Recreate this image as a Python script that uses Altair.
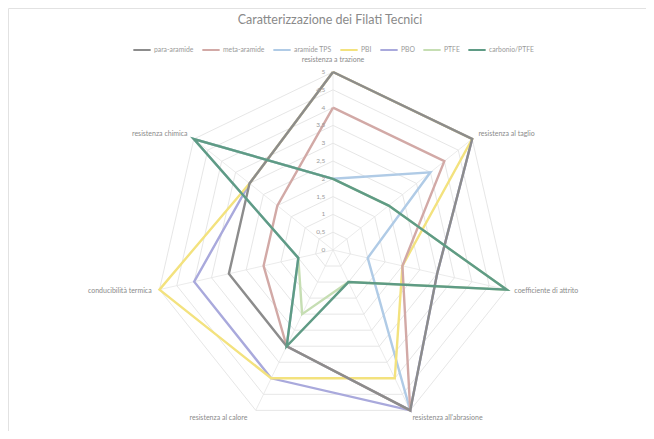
import math
import altair as alt
import pandas as pd

# ---------------- data ----------------
axis_labels = ["resistenza a trazione", "resistenza al taglio", "coefficiente di attrito",
               "resistenza all'abrasione", "resistenza al calore", "conducibilità termica",
               "resistenza chimica"]

series_names = ["para-aramide", "meta-aramide", "aramide TPS", "PBI", "PBO", "PTFE", "carbonio/PTFE"]
series_colors = ["#8c8c8c", "#d2a9a6", "#b0cbe6", "#f3e27e", "#a9a9dc", "#c6deb3", "#5f9b85"]
# drawing order, bottom to top
draw_order = ["PTFE", "aramide TPS", "PBO", "PBI", "meta-aramide", "para-aramide", "carbonio/PTFE"]

para_aramide = [5, 5, 3, 5, 3, 3, 3]
meta_aramide = [4, 4, 2, 5, 3, 2, 2]
aramide_tps = [2, 3.5, 1, 5, 3, 1, 5]
pbi = [5, 5, 2, 4, 4, 5, 3]
pbo = [5, 5, 3, 5, 4, 4, 3]
ptfe = [2, 2, 5, 1, 2, 1, 5]
carbonio_ptfe = [2, 2, 5, 1, 3, 1, 5]

tick_values = [0, 0.5, 1, 1.5, 2, 2.5, 3, 3.5, 4, 4.5, 5]
tick_labels = ["0", "0,5", "1", "1,5", "2", "2,5", "3", "3,5", "4", "4,5", "5"]

title_text = "Caratterizzazione  dei  Filati  Tecnici"

# ---------------- tables ----------------
n_axes = len(axis_labels)
all_series = dict(zip(series_names, [para_aramide, meta_aramide, aramide_tps, pbi, pbo, ptfe, carbonio_ptfe]))

rows = []
for name in draw_order:
    vals = all_series[name]
    for i in range(n_axes + 1):
        rows.append({"serie": name, "idx": i, "value": vals[i % n_axes]})
series_df = pd.DataFrame(rows)

grid_rows = []
for t in tick_values[1:]:
    for i in range(n_axes + 1):
        grid_rows.append({"ring": t, "idx": i, "value": t})
grid_df = pd.DataFrame(grid_rows)

spoke_df = pd.DataFrame({"idx": list(range(n_axes)), "value": [tick_values[-1]] * n_axes})

tick_df = pd.DataFrame({"value": tick_values, "label": tick_labels})

# axis label anchors derived from the axis angles
R = tick_values[-1]
lab_rows = []
for i, lab in enumerate(axis_labels):
    a = 2 * math.pi * i / n_axes
    sx, sy = math.sin(a), math.cos(a)
    r = R * 1.045
    x, y = r * sx, r * sy
    if i == 0:
        grp = "center"
        y = R * 1.07
    elif sy < -0.5:
        grp = "center"
        x += 0.95 if sx > 0 else -0.95
    elif sx > 0:
        grp = "left"
    else:
        grp = "right"
    lab_rows.append({"label": lab, "x": x, "y": y, "grp": grp})
lab_df = pd.DataFrame(lab_rows)

# ---------------- scales ----------------
W, H = 638, 423
unit = 35.6
cx, cy = 325, 242
xs = alt.Scale(domain=[-cx / unit, (W - cx) / unit], nice=False, zero=False)
ys = alt.Scale(domain=[-(H - cy) / unit, cy / unit], nice=False, zero=False)
noax = None


def polar(df):
    return (alt.Chart(df)
            .transform_calculate(ang=f"2*PI*datum.idx/{n_axes}")
            .transform_calculate(px="datum.value*sin(datum.ang)", py="datum.value*cos(datum.ang)"))


grid = polar(grid_df).mark_line(color="#e0e0e0", strokeWidth=0.8).encode(
    x=alt.X("px:Q", scale=xs, axis=noax),
    y=alt.Y("py:Q", scale=ys, axis=noax),
    detail="ring:N",
    order="idx:Q",
)

spokes = polar(spoke_df).transform_calculate(zx="0", zy="0").mark_rule(
    color="#e6e6e6", strokeWidth=0.8).encode(
    x=alt.X("zx:Q", scale=xs, axis=noax),
    y=alt.Y("zy:Q", scale=ys, axis=noax),
    x2="px:Q",
    y2="py:Q",
)

legend = alt.Legend(
    title=None, orient="none", direction="horizontal",
    legendX=124, legendY=32,
    symbolType="stroke", symbolSize=300, symbolStrokeWidth=2,
    labelFontSize=6.8, labelColor="#9a9a9a", labelFont="Lato",
    columnPadding=4, labelOffset=2,
)

line_layers = []
for k, name in enumerate(draw_order):
    enc = dict(
        x=alt.X("px:Q", scale=xs, axis=noax),
        y=alt.Y("py:Q", scale=ys, axis=noax),
        color=alt.Color(
            "serie:N",
            scale=alt.Scale(domain=series_names, range=series_colors),
            sort=series_names,
            legend=legend if k == 0 else None,
        ),
        order="idx:Q",
    )
    line_layers.append(
        polar(series_df).transform_filter(f"datum.serie == '{name}'")
        .mark_line(strokeWidth=2.4, strokeJoin="miter").encode(**enc)
    )

ticks = alt.Chart(tick_df).transform_calculate(tx="-0.22").mark_text(
    align="right", baseline="middle", fontSize=6.5, color="#9a9a9a", font="Lato").encode(
    x=alt.X("tx:Q", scale=xs, axis=noax),
    y=alt.Y("value:Q", scale=ys, axis=noax),
    text="label:N",
)


def labels(grp, align):
    return alt.Chart(lab_df).transform_filter(f"datum.grp == '{grp}'").mark_text(
        align=align, baseline="middle", fontSize=7, color="#8a8a8a", font="Lato").encode(
        x=alt.X("x:Q", scale=xs, axis=noax),
        y=alt.Y("y:Q", scale=ys, axis=noax),
        text="label:N",
    )


title = alt.Chart(pd.DataFrame({"t": [title_text]})).mark_text(
    align="center", baseline="middle", fontSize=12.5, color="#8a8a8a", font="Lato").encode(
    x=alt.value(322), y=alt.value(12), text="t:N")

chart = alt.layer(
    grid, spokes, *line_layers, ticks,
    labels("center", "center"), labels("left", "left"), labels("right", "right"),
    title,
).properties(
    width=W, height=H,
    autosize=alt.AutoSizeParams(type="none"),
    padding=0,
).configure_view(stroke="#e2e2e2", strokeWidth=1)

chart.save("out.html", embed_options={"renderer": "svg", "actions": False})
